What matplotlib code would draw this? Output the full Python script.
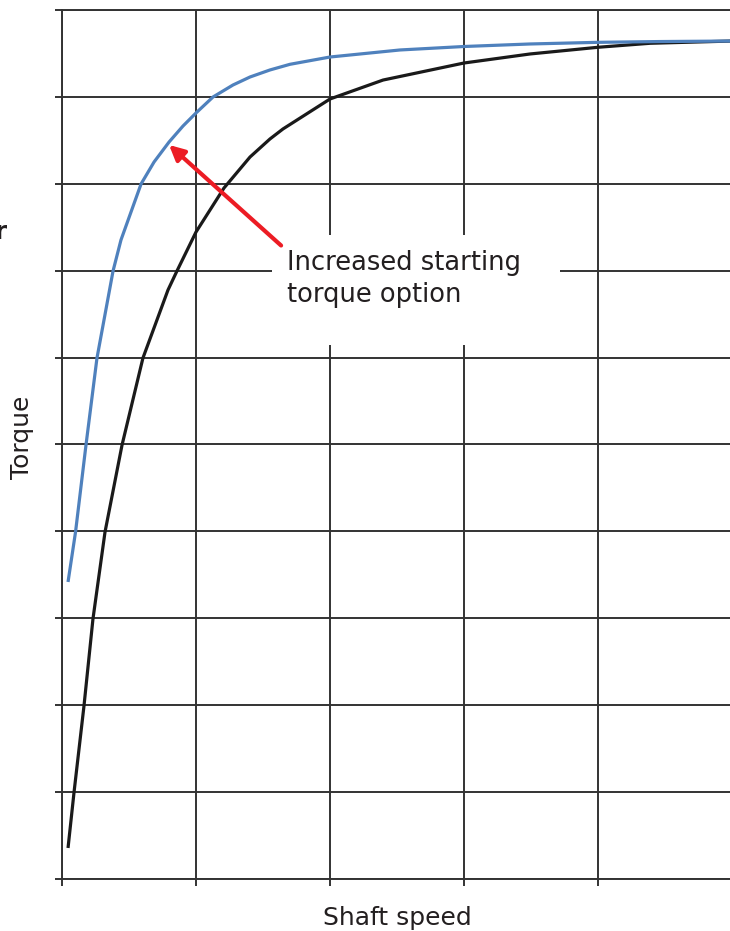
import matplotlib
matplotlib.use("Agg")
import matplotlib.pyplot as plt
from matplotlib.patches import Rectangle

# ---------------------------------------------------------------------------
# Data (shaft speed and torque in grid units)
# ---------------------------------------------------------------------------
speed_boost  = [0.045, 0.101, 0.179, 0.261, 0.381, 0.440, 0.590, 0.687,
                0.799, 0.903, 1.0, 1.127, 1.276, 1.403, 1.552, 1.701,
                2.0, 2.522, 3.0, 3.493, 4.0, 4.463, 5.0]
torque_boost = [3.418, 3.993, 4.994, 5.995, 6.997, 7.353, 7.998, 8.251,
                8.481, 8.665, 8.815, 8.999, 9.137, 9.229, 9.310, 9.375,
                9.459, 9.540, 9.580, 9.609, 9.628, 9.637, 9.643]

speed_std  = [0.045, 0.090, 0.164, 0.231, 0.321, 0.448, 0.604, 0.791,
              0.858, 1.0, 1.209, 1.403, 1.552, 1.649, 2.0, 2.396, 3.0,
              3.493, 4.0, 4.388, 5.0]
torque_std = [0.357, 1.001, 1.991, 2.992, 3.993, 4.994, 5.995, 6.778,
              6.997, 7.445, 7.952, 8.308, 8.516, 8.631, 8.976, 9.194, 9.390,
              9.494, 9.571, 9.617, 9.643]

x_ticks = [0, 1, 2, 3, 4, 5]
y_ticks = list(range(11))

annot_text = "Increased starting\ntorque option"
annot_tip  = (0.799, 8.447)
annot_tail = (1.635, 7.29)

GRID = "#333333"
INK  = "#231f20"
BLUE = "#4f81bd"
RED  = "#ec1c24"

fig = plt.figure(figsize=(7.30, 9.31), dpi=100)
ax = fig.add_axes([62 / 730, 52 / 931, 670 / 730, 869 / 931])

ax.set_xlim(0, 5)
ax.set_ylim(0, 10)
ax.set_xticks(x_ticks)
ax.set_yticks(y_ticks)
ax.set_xticklabels([])
ax.set_yticklabels([])
ax.tick_params(direction="out", length=5, width=1.4, color=GRID)
ax.grid(True, color=GRID, lw=1.4)
ax.set_axisbelow(True)
for side in ["left", "top", "bottom"]:
    ax.spines[side].set_color(GRID)
    ax.spines[side].set_linewidth(1.4)
ax.spines["right"].set_visible(False)

# white patch behind the annotation text (hides the grid there)
ax.add_patch(Rectangle((210 / 670, (879 - 345) / 869), 288 / 670, 110 / 869,
                       transform=ax.transAxes, facecolor="white",
                       edgecolor="none", zorder=1.5))

ax.plot(speed_std, torque_std, color="#1a1a1a", lw=2.3, zorder=3,
        solid_capstyle="butt", solid_joinstyle="round")
ax.plot(speed_boost, torque_boost, color=BLUE, lw=2.3, zorder=3,
        solid_capstyle="butt", solid_joinstyle="round")

ax.annotate("", xy=annot_tip, xytext=annot_tail,
            arrowprops=dict(arrowstyle="-|>,head_length=0.9,head_width=0.45",
                            color=RED, lw=3, shrinkA=0, shrinkB=0),
            zorder=4)
ax.text(1.68, 7.24, annot_text, fontsize=18.5, color=INK,
        va="top", ha="left", linespacing=1.3, zorder=4)

# axis titles placed like the reference
fig.text(397 / 730, 1 - 918 / 931, "Shaft speed", fontsize=18, color=INK,
         ha="center", va="center")
fig.text(22 / 730, 1 - 437 / 931, "Torque", fontsize=18, color=INK,
         ha="center", va="center", rotation=90)

# clipped label at the left edge of the original
fig.text(8 / 730, 1 - 232 / 931, "motor", fontsize=18, fontweight="bold",
         ha="right", va="center", color=INK)

plt.savefig("out.png", dpi=100)
plt.close()
